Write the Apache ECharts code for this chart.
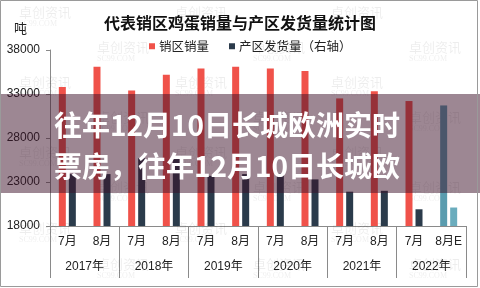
<!DOCTYPE html>
<html>
<head>
<meta charset="utf-8">
<script src="https://cdn.jsdelivr.net/npm/echarts@6/dist/echarts.min.js"></script>
<style>
html,body{margin:0;padding:0;background:#fff;}
#chart{width:480px;height:288px;}
</style>
</head>
<body>
<div id="chart"></div>
<script>
var titleText = '代表销区鸡蛋销量与产区发货量统计图';
var seriesNames = ['销区销量', '产区发货量（右轴）'];
var unitText = '吨';
var months = ['7月','8月','7月','8月','7月','8月','7月','8月','7月','8月','7月','8月E'];
var years = ['2017年','2018年','2019年','2020年','2021年','2022年'];
var salesVolume = [33800, 36100, 33400, 35200, 35900, 36100, 35900, 35600, 32500, 33300, 32200, 31700];
var shipVolume  = [23900, 23900, 25700, 25900, 23700, 23900, 24000, 23300, 21900, 22000, 19900, 20100];
var yTicks = [18000, 23000, 28000, 33000, 38000];
var overlayLines = ['往年12月10日长城欧洲实时', '票房，往年12月10日长城欧'];
var watermarkText = '卓创资讯';
var watermarkSub = 'SC99.COM';

var FONT = '"Liberation Sans","Noto Sans CJK SC",sans-serif';
var CJK = '"Noto Sans CJK SC",sans-serif';

function isEstimate(i){ return /E$/.test(months[i]); }

var chart = echarts.init(document.getElementById('chart'), null, {renderer:'canvas'});

var wm = [];
var wmPos = [[5,6],[161,6],[317,6],[83,41],[239,41],[395,41],[5,76],[161,76],[317,76],[83,111],[239,111],[395,111],[5,146],[161,146],[317,146],[83,181],[239,181],[395,181],[5,222],[161,222],[317,222],[83,258],[239,258],[395,258]];
wmPos.forEach(function(p){
  wm.push({type:'text', left:p[0]+14, top:p[1], z:1, silent:true,
    style:{text:watermarkText, font:'13px ' + CJK, fill:'rgba(0,0,0,0.07)'}});
  wm.push({type:'text', left:p[0]+14, top:p[1]+14, z:1, silent:true,
    style:{text:watermarkSub, font:'8px "Liberation Serif",serif', fill:'rgba(0,0,0,0.07)'}});
});

var option = {
  backgroundColor:'#ffffff',
  animation:false,
  title:{
    text:titleText, left:'center', top:10,
    textStyle:{fontSize:16, fontWeight:'bold', color:'#111', fontFamily:CJK}
  },
  legend:{
    data:seriesNames, left:144, top:35, itemWidth:6, itemHeight:6, itemGap:20,
    icon:'rect',
    textStyle:{fontSize:12.5, color:'#222', fontFamily:CJK, padding:[0,0,0,-1]}
  },
  grid:{left:50, right:14, top:50, bottom:62, containLabel:false},
  xAxis:[{
    type:'category', data:months, position:'bottom',
    axisLine:{show:true, lineStyle:{color:'#8a8a8a', width:1}},
    axisTick:{show:false},
    axisLabel:{margin:10, fontSize:12, color:'#222', fontFamily:FONT, interval:0}
  },{
    type:'category', data:years, position:'bottom',
    axisLine:{show:false},
    axisTick:{show:true, length:52, lineStyle:{color:'#8a8a8a', width:1}},
    axisLabel:{margin:35, fontSize:12, color:'#222', fontFamily:FONT, interval:0}
  }],
  yAxis:[{
    type:'value', min:yTicks[0], max:yTicks[yTicks.length-1], interval:yTicks[1]-yTicks[0],
    axisLine:{show:true, lineStyle:{color:'#8a8a8a'}},
    axisTick:{show:true, length:4, lineStyle:{color:'#8a8a8a'}},
    splitLine:{show:false},
    axisLabel:{margin:10, fontSize:12, color:'#222', fontFamily:FONT,
      formatter:function(v){ return String(v); }}
  },{
    type:'value', min:yTicks[0], max:yTicks[yTicks.length-1], show:false,
    splitLine:{show:false}
  }],
  series:[{
    name:seriesNames[0], type:'bar', xAxisIndex:0, yAxisIndex:0,
    data:salesVolume, barWidth:7, barGap:'43%', z:3,
    itemStyle:{color:function(p){ return isEstimate(p.dataIndex) ? '#5a9caf' : '#f0524a'; }}
  },{
    name:seriesNames[1], type:'bar', xAxisIndex:0, yAxisIndex:1,
    data:shipVolume, barWidth:7, barGap:'43%', z:3,
    itemStyle:{color:function(p){ return isEstimate(p.dataIndex) ? '#6aacbd' : '#2b3b4b'; }}
  }],
  color:['#f0524a','#2b3b4b'],
  graphic:wm.concat([
    {type:'text', left:14, top:22, z:5, style:{text:unitText, font:'13px ' + CJK, fill:'#222'}},
    {type:'rect', z:100, silent:true, shape:{x:0, y:94, width:480, height:99},
      style:{fill:'rgba(60,15,40,0.5)'}},
    {type:'text', z:101, silent:true, x:54, y:125,
      style:{text:overlayLines[0], font:'bold 28px ' + CJK, fill:'#ffffff', textVerticalAlign:'middle'}},
    {type:'text', z:101, silent:true, x:54, y:166,
      style:{text:overlayLines[1], font:'bold 28px ' + CJK, fill:'#ffffff', textVerticalAlign:'middle'}},
    {type:'rect', z:102, silent:true, shape:{x:0.5, y:0.5, width:477, height:286},
      style:{fill:'none', stroke:'#9a9a9a', lineWidth:1}}
  ])
};
chart.setOption(option);
</script>
</body>
</html>
